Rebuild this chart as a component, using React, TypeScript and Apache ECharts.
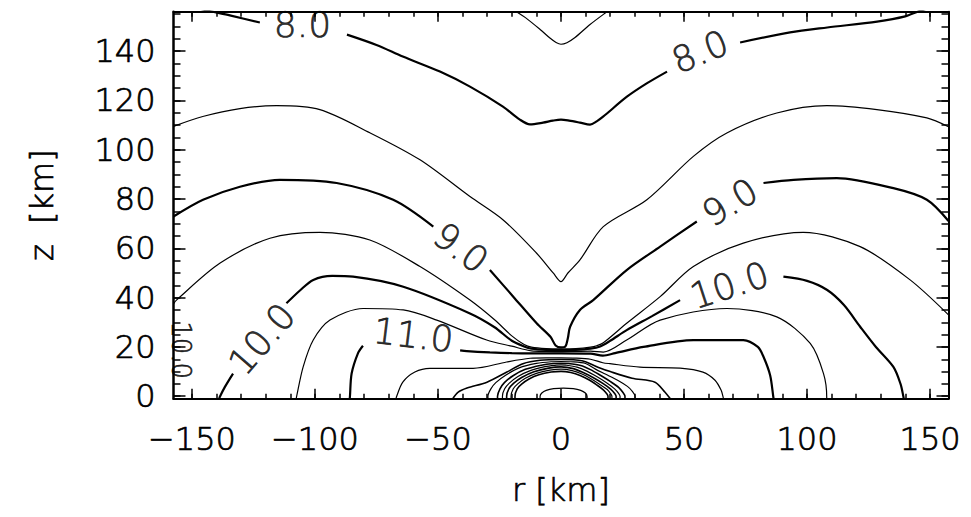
import React, { useEffect, useRef } from 'react';
import * as echarts from 'echarts';

// ---- axis ticks ----
const xMajorTicks = [-150, -100, -50, 0, 50, 100, 150];
const xMinorTicks = [-150, -140, -130, -120, -110, -100, -90, -80, -70, -60, -50, -40, -30, -20, -10, 0, 10, 20, 30, 40, 50, 60, 70, 80, 90, 100, 110, 120, 130, 140, 150];
const yMajorTicks = [0, 20, 40, 60, 80, 100, 120, 140];
const yMinorTicks = [0, 5, 10, 15, 20, 25, 30, 35, 40, 45, 50, 55, 60, 65, 70, 75, 80, 85, 90, 95, 100, 105, 110, 115, 120, 125, 130, 135, 140, 145, 150, 155];

// ---- contour lines, points are [r (km), z (km)] ----
const c75 = [[-21.5, 158.5], [-19.5, 156.9], [-14.6, 153.7], [-8.5, 148.8], [-4.5, 145.3], [-2, 143.5], [0, 142.8], [2.4, 143.4], [5.7, 145.5], [11.8, 150.8], [19.9, 156.9], [22, 158.5]];

const c80a = [[-150, 158.5], [-145.6, 156.9], [-134.6, 154.5], [-122.4, 151.6]];
const c80b = [[-87, 146.7], [-75, 142.5], [-64.3, 137.8], [-49.2, 131.7], [-37, 125.6], [-23.6, 117.5], [-16.7, 112.2], [-12.6, 110.3], [-7.3, 111], [-3.3, 111.8], [0, 112.2], [3.3, 111.8], [7.7, 111], [11.8, 110.2], [14.5, 111.5], [17.1, 113.4], [26.8, 121.5], [35, 127], [43.1, 131.7]];
const c80c = [[72.8, 143.5], [93.1, 147.6], [108.2, 149.6], [128.5, 152], [139.9, 154.1], [145.2, 156.1], [150, 157.7]];

const c85 = [[-157.5, 109.5], [-145.6, 113.5], [-130.5, 116.7], [-115.6, 117.9], [-98, 116.3], [-77.7, 106.9], [-57.3, 95.9], [-37, 81], [-23.5, 71.5], [-9.9, 58], [-3.1, 49.9], [0, 46.5], [2.8, 50], [7.7, 55.3], [17.2, 68.8], [34.9, 79.7], [53.8, 97.3], [67.4, 106.8], [87.7, 114.9], [108.1, 117.9], [128.4, 116.3], [148.7, 112.9], [157.5, 109.3]];

const c90a = [[-157.5, 72.9], [-145.5, 79.7], [-130.5, 85], [-114.3, 87.8], [-91.2, 86.5], [-68.2, 79.7], [-51.9, 68.8]];
const c90b = [[-28.9, 51.2], [-19.4, 40.4], [-9.9, 29.6], [-4.2, 24], [-2.2, 20.6], [0, 19.8], [1.8, 20.2], [2.8, 23.6], [3.7, 28.2], [7.7, 35], [13.1, 39], [26.7, 51.2], [40.3, 60.7], [55.2, 70.9]];
const c90c = [[82.3, 86.5], [94.5, 87.8], [112.1, 88.5], [135.1, 84.4], [148.7, 79.7], [157.5, 71.1]];

const c95 = [[-157.5, 37.5], [-156.3, 39], [-138.7, 53.9], [-118.3, 64.1], [-98, 66.5], [-77.7, 63.4], [-57.3, 52.6], [-37, 39], [-27, 31], [-20, 24.5], [-15, 21], [-12, 19.9], [-6, 19.3], [0, 19.2], [6, 19.3], [12, 19.9], [14.5, 20.5], [17.2, 21.7], [26.7, 29.6], [40.3, 40.4], [53.8, 52.6], [74.1, 62.1], [98.5, 66.5], [121.6, 60.7], [141.9, 47.2], [157.5, 33]];

const c100a = [[-138.9, -1], [-138.7, -0.3], [-136.6, 3.8], [-133.3, 9.2]];
const c100b = [[-111.6, 37.7], [-106, 43], [-100.7, 47.2], [-93, 48.8], [-84.5, 48.5], [-64.1, 44.4], [-37, 33.6], [-27, 28], [-20, 22.5], [-15, 20.2], [-12, 19.3], [-6, 18.8], [0, 18.7], [6, 18.8], [12, 19.3], [15.9, 20.2], [20, 22.5], [26.7, 26.8], [37, 32.5], [48.4, 39]];
const c100c = [[90.4, 48.5], [100, 46.8], [108.2, 43.1], [115, 37], [121.6, 28.2], [128, 20], [135.1, 11.9], [138, 5], [139.2, -0.3], [139.3, -1]];

const c105 = [[-107.6, -1], [-107.5, -0.3], [-104.8, 11.9], [-100.7, 22.8], [-93.9, 30.9], [-80.4, 35.6], [-64.1, 35], [-50.5, 30.9], [-30.2, 22.8], [-20, 20.3], [-12, 18.4], [-6, 18.2], [0, 18.1], [6, 18.2], [12, 18.3], [17.2, 17.9], [26.7, 22.8], [40.3, 30.9], [67.4, 35.6], [87.7, 32.2], [101.3, 21.4], [106.7, 9.2], [108, -0.3], [108, -1]];

const c110a = [[-85.9, -1], [-85.8, -0.3], [-85.1, 9.2], [-82.5, 17.5], [-80.5, 20.5]];
const c110b = [[-41, 18.6], [-38.3, 18.3], [-28.9, 17.8], [-20, 17.5], [-12, 17.4], [0, 17.4], [12, 17.3], [17, 16.5], [22, 17.5], [33.5, 20], [53.8, 22.8], [74.1, 22.8], [80, 20], [82.3, 16], [85, 8.5], [86.3, -0.3], [86.4, -1]];

const c115 = [[-67, -1], [-66.9, -0.3], [-64.3, 5.7], [-59.4, 9.8], [-53.3, 11.3], [-35.7, 11.3], [-22.1, 13.9], [-12.6, 15.4], [-6, 15.6], [0, 15.6], [6, 15.5], [12, 15], [17, 13.6], [19.9, 13.2], [32.1, 11.8], [48.4, 11.4], [57.7, 9.8], [62.6, 6.5], [65.1, 2.4], [65.9, -0.4], [66, -1]];

const c120 = [[-44, -1], [-43.9, -0.8], [-41.9, 1.6], [-38.2, 3.3], [-30.1, 5.7], [-22, 9.8], [-15.5, 13.2], [-8.5, 14.6], [0, 14.9], [8.5, 14.4], [15, 11.8], [20, 10], [28.9, 7.3], [38.2, 5.7], [42.3, 1.6], [44.3, -0.8], [44.4, -1]];

const c125 = [[-29.7, -1], [-29.7, 0], [-28.5, 3], [-26.5, 5.5], [-22.5, 8.5], [-17, 11.5], [-10, 13.3], [-4, 14], [0, 14.1], [4, 14], [10, 13.3], [14, 11], [18, 9], [23, 6.5], [27, 4], [29, 2], [30.1, 0], [30.1, -1]];
const c130 = [[-25.8, -1], [-25.8, 0], [-24.8, 3], [-23, 5.5], [-19.5, 8.3], [-14.5, 10.9], [-8, 12.6], [-3, 13.3], [0, 13.4], [3, 13.3], [8, 12.5], [12, 10.8], [16, 8.5], [20, 6], [23.5, 3.5], [25.2, 1.5], [26, 0], [26, -1]];
const c135 = [[-23.8, -1], [-23.8, 0], [-22.9, 3], [-21, 5.3], [-17.5, 8], [-12.5, 10.4], [-6.5, 12], [-2, 12.6], [0, 12.7], [2, 12.6], [6.5, 11.8], [10.5, 10.2], [14.5, 8], [18.5, 5.5], [21.8, 3], [23.4, 1.2], [24, 0], [24, -1]];
const c140 = [[-22.1, -1], [-22.1, 0], [-21.2, 3], [-19.3, 5.2], [-16, 7.6], [-11, 9.9], [-5, 11.4], [0, 11.9], [5, 11.2], [9, 9.6], [13, 7.6], [17, 5.2], [20.3, 2.8], [21.9, 1], [22.4, 0], [22.4, -1]];
const c145 = [[-20.3, -1], [-20.3, 0], [-19.4, 3], [-17.6, 5], [-14.5, 7.3], [-10, 9.3], [-4.5, 10.6], [0, 11], [4.5, 10.4], [8.5, 9], [12, 7.2], [15.5, 5], [18.8, 2.7], [20.2, 1], [20.7, 0], [20.7, -1]];
const c150 = [[-18.7, -1], [-18.7, 0], [-17.8, 3], [-16, 4.9], [-13, 7], [-9, 8.7], [-4, 9.8], [0, 10.1], [4, 9.6], [8, 8.3], [11.5, 6.6], [14.5, 4.6], [17.3, 2.5], [18.6, 1], [19.1, 0], [19.1, -1]];
const cInner = [[-8.5, -1], [-8.5, 0], [-7.8, 1.3], [-6, 2.4], [-3, 3.1], [1, 3.3], [5, 3.1], [8, 2.4], [9.9, 1.3], [10.6, 0], [10.6, -1]];

const thickSegments = [c80a, c80b, c80c, c90a, c90b, c90c, c100a, c100b, c100c, c110a, c110b];
const domeSegments = [c120, c130, c140, c150];
const thinSegments = [c75, c85, c95, c105, c115, c125, c135, c145, cInner];

// ---- contour labels ----
const labelR = [-105.1, 56.5, -40.7, 68.7, -121.6, 68.5, -60, -154.5];
const labelZ = [150.8, 139.8, 60.2, 78.7, 23.2, 45, 24.8, 18.7];
const labelText = ['8.0', '8.0', '9.0', '9.0', '10.0', '10.0', '11.0', '10.0'];
const labelAngle = [0, 22, -37, 31, 49, 18, -7, -90];

const FONT = '"DejaVu Sans", "Liberation Sans", sans-serif';

function fmt(v: number) {
  return v < 0 ? '\u2212' + Math.abs(v) : String(v);
}

export default function App() {
  const ref = useRef<HTMLDivElement>(null);
  useEffect(() => {
    const chart = echarts.init(ref.current as HTMLDivElement, null, { renderer: 'svg' });
    const lineSeries: any[] = [];
    const addSegs = (segs: number[][][], width: number) => {
      segs.forEach((seg) => {
        lineSeries.push({
          type: 'line', data: seg, xAxisIndex: 0, yAxisIndex: 0, showSymbol: false, symbol: 'none',
          smooth: 0.3, lineStyle: { color: '#000', width }, silent: true,
        });
      });
    };
    addSegs(thickSegments, 2.2);
    addSegs(domeSegments, 1.6);
    addSegs(thinSegments, 1.2);
    const textLook = { fontFamily: FONT, fontWeight: 200, color: '#000', textBorderColor: '#000', textBorderWidth: 0.7 };
    const labelSeries = {
      type: 'scatter', xAxisIndex: 0, yAxisIndex: 0, symbolSize: 0, silent: true,
      itemStyle: { color: '#000' },
      data: labelR.map((r, i) => ({
        value: [r, labelZ[i]],
        label: {
          show: true, position: 'inside', rotate: labelAngle[i], formatter: labelText[i],
          fontSize: i === 7 ? 26 : 36, ...textLook,
        },
      })),
    };
    const axisLine = { show: true, onZero: false, lineStyle: { color: '#000', width: 2 } };
    const labelStyle = { fontSize: 32, ...textLook };
    const xCommon = { type: 'value', min: -157.5, max: 157.5, splitLine: { show: false } };
    const yCommon = { type: 'value', min: -1, max: 156, splitLine: { show: false } };
    const option: any = {
      animation: false,
      backgroundColor: '#fff',
      grid: { left: 173.5, right: 22.5, top: 11.7, bottom: 118.3, containLabel: false },
      xAxis: [
        {
          ...xCommon, position: 'bottom', axisLine,
          axisTick: { show: true, inside: true, length: 10, customValues: xMajorTicks, lineStyle: { color: '#000', width: 1.5 } },
          axisLabel: { show: true, customValues: xMajorTicks, formatter: fmt, margin: 24, ...labelStyle },
          name: 'r [km]', nameLocation: 'middle', nameGap: 75,
          nameTextStyle: { ...labelStyle },
        },
        {
          ...xCommon, position: 'bottom', axisLine: { show: false, onZero: false },
          axisTick: { show: true, inside: true, length: 5, customValues: xMinorTicks, lineStyle: { color: '#000', width: 1.5 } },
          axisLabel: { show: false },
        },
        {
          ...xCommon, position: 'top', axisLine,
          axisTick: { show: true, inside: true, length: 10, customValues: xMajorTicks, lineStyle: { color: '#000', width: 1.5 } },
          axisLabel: { show: false },
        },
        {
          ...xCommon, position: 'top', axisLine: { show: false, onZero: false },
          axisTick: { show: true, inside: true, length: 5, customValues: xMinorTicks, lineStyle: { color: '#000', width: 1.5 } },
          axisLabel: { show: false },
        },
      ],
      yAxis: [
        {
          ...yCommon, position: 'left', axisLine: { show: true, onZero: false, lineStyle: { color: '#000', width: 2.5 } },
          axisTick: { show: true, inside: true, length: 12, customValues: yMajorTicks, lineStyle: { color: '#000', width: 1.5 } },
          axisLabel: { show: true, customValues: yMajorTicks, margin: 18, ...labelStyle },
          name: 'z  [km]', nameLocation: 'middle', nameGap: 116,
          nameTextStyle: { ...labelStyle },
        },
        {
          ...yCommon, position: 'left', axisLine: { show: false, onZero: false },
          axisTick: { show: true, inside: true, length: 7, customValues: yMinorTicks, lineStyle: { color: '#000', width: 1.5 } },
          axisLabel: { show: false },
        },
        {
          ...yCommon, position: 'right', axisLine,
          axisTick: { show: true, inside: true, length: 12, customValues: yMajorTicks, lineStyle: { color: '#000', width: 1.5 } },
          axisLabel: { show: false },
        },
        {
          ...yCommon, position: 'right', axisLine: { show: false, onZero: false },
          axisTick: { show: true, inside: true, length: 7, customValues: yMinorTicks, lineStyle: { color: '#000', width: 1.5 } },
          axisLabel: { show: false },
        },
      ],
      series: [...lineSeries, labelSeries],
    };
    chart.setOption(option);
    return () => chart.dispose();
  }, []);
  return <div ref={ref} style={{ position: 'fixed', left: 0, top: 0, width: 971, height: 517, background: '#fff' }} />;
}
